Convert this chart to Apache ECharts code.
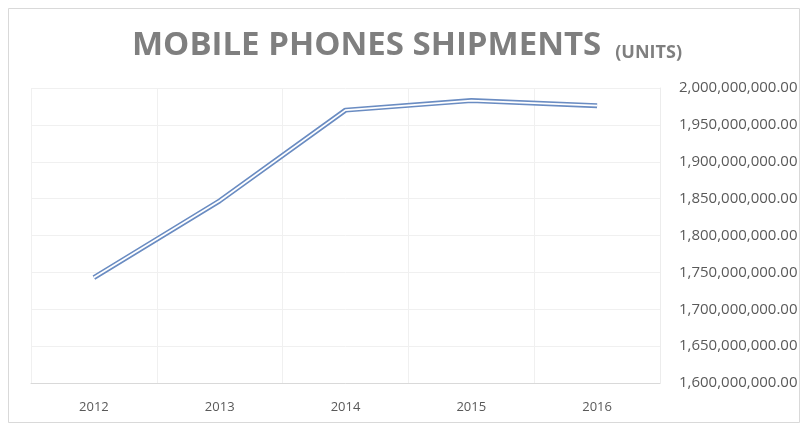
<!DOCTYPE html>
<html>
<head>
<meta charset="utf-8">
<script src="https://cdn.jsdelivr.net/npm/echarts@6/dist/echarts.min.js"></script>
<style>
  html, body { margin: 0; padding: 0; background: #fff; }
  #chart { width: 804px; height: 428px; }
</style>
</head>
<body>
<div id="chart"></div>
<script>
// data
var years = ['2012', '2013', '2014', '2015', '2016'];
var shipments = [1743000000, 1847000000, 1970000000, 1983000000, 1976000000];
var yTicks = { min: 1600000000, max: 2000000000, step: 50000000 };

var chart = echarts.init(document.getElementById('chart'));

function fmt(v) {
  return v.toLocaleString('en-US', { minimumFractionDigits: 2, maximumFractionDigits: 2 });
}

var option = {
  backgroundColor: '#fff',
  animation: false,
  title: {
    text: '{a|MOBILE PHONES SHIPMENTS}{b|(UNITS)}',
    left: 127,
    top: 24,
    textStyle: {
      rich: {
        a: { fontFamily: 'Open Sans', fontWeight: 'bold', fontSize: 33, color: '#7f7f7f' },
        b: { fontFamily: 'Open Sans', fontWeight: 'bold', fontSize: 18, color: '#7f7f7f', padding: [14, 0, 0, 14] }
      }
    }
  },
  graphic: [{
    type: 'rect',
    shape: { x: 8.5, y: 8.5, width: 791, height: 414 },
    style: { fill: null, stroke: '#d9d9d9', lineWidth: 1 },
    silent: true
  }],
  grid: { left: 31, right: 144, top: 88, bottom: 45 },
  xAxis: {
    type: 'category',
    data: years,
    boundaryGap: true,
    axisLine: { lineStyle: { color: '#d9d9d9' } },
    axisTick: { show: false },
    axisLabel: { color: '#595959', fontFamily: 'Open Sans', fontSize: 13, margin: 18 },
    splitLine: { show: true, lineStyle: { color: '#f0f0f0' } }
  },
  yAxis: {
    type: 'value',
    position: 'right',
    min: yTicks.min,
    max: yTicks.max,
    interval: yTicks.step,
    axisLine: { show: true, lineStyle: { color: '#ececec' } },
    axisTick: { show: false },
    axisLabel: { color: '#595959', fontFamily: 'Open Sans', fontSize: 15, margin: 19, formatter: fmt },
    splitLine: { lineStyle: { color: '#f0f0f0' } }
  },
  series: [{
    type: 'line',
    data: shipments,
    symbol: 'none',
    lineStyle: { color: '#6a8cc2', width: 5 },
    z: 2
  }, {
    type: 'line',
    data: shipments,
    symbol: 'none',
    lineStyle: { color: '#ffffff', width: 1.8 },
    z: 3
  }]
};

chart.setOption(option);
</script>
</body>
</html>
